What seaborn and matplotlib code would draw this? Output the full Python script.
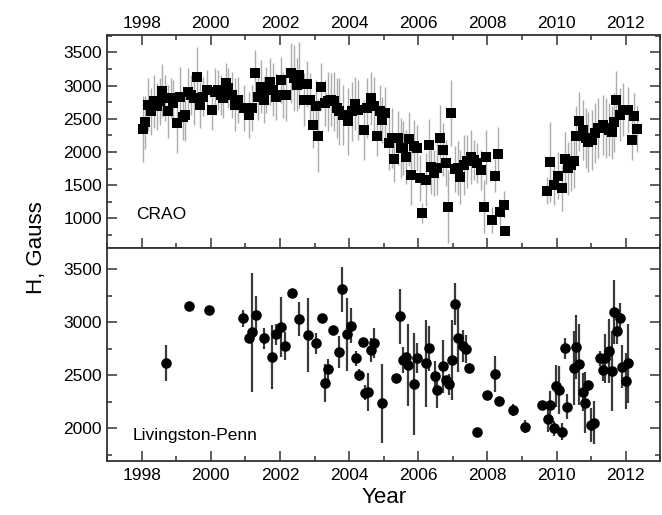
import numpy as np
import pandas as pd
import matplotlib
matplotlib.use("Agg")
import matplotlib.pyplot as plt
from matplotlib.ticker import MultipleLocator
import seaborn as sns

# ---------------- data ----------------
crao_year = [1998.03, 1998.10, 1998.20, 1998.28, 1998.35, 1998.44, 1998.52, 1998.60, 1998.68, 1998.76,
             1998.84, 1998.92, 1999.02, 1999.10, 1999.19, 1999.27, 1999.35, 1999.44, 1999.52, 1999.60,
             1999.69, 1999.78, 1999.88, 2000.03, 2000.12, 2000.20, 2000.30, 2000.35, 2000.43, 2000.50,
             2000.60, 2000.69, 2000.80, 2000.95, 2001.10, 2001.20, 2001.27, 2001.36, 2001.46, 2001.53,
             2001.60, 2001.70, 2001.80, 2001.88, 2002.03, 2002.10, 2002.17, 2002.32, 2002.40, 2002.48,
             2002.56, 2002.69, 2002.78, 2002.88, 2002.95, 2003.04, 2003.11, 2003.20, 2003.30, 2003.38,
             2003.48, 2003.55, 2003.64, 2003.72, 2003.81, 2003.98, 2004.07, 2004.16, 2004.25, 2004.44,
             2004.53, 2004.63, 2004.72, 2004.82, 2004.88, 2004.96, 2005.04, 2005.14, 2005.23, 2005.30,
             2005.40, 2005.50, 2005.56, 2005.64, 2005.72, 2005.80, 2005.88, 2005.97, 2006.05, 2006.12,
             2006.21, 2006.31, 2006.38, 2006.46, 2006.54, 2006.63, 2006.72, 2006.81, 2006.86, 2006.96,
             2007.05, 2007.15, 2007.22, 2007.32, 2007.41, 2007.51, 2007.61, 2007.70, 2007.80, 2007.89,
             2007.96, 2008.13, 2008.21, 2008.31, 2008.37, 2008.47, 2008.52,
             2009.72, 2009.82, 2009.91, 2010.05, 2010.15, 2010.23, 2010.32, 2010.42, 2010.51, 2010.56,
             2010.65, 2010.75, 2010.84, 2010.92, 2011.02, 2011.11, 2011.21, 2011.33, 2011.42, 2011.50,
             2011.60, 2011.67, 2011.72, 2011.83, 2011.93, 2012.06, 2012.17, 2012.25, 2012.32]
crao_h = [2345, 2450, 2710, 2610, 2760, 2685, 2760, 2925, 2810, 2610,
          2810, 2735, 2435, 2825, 2525, 2560, 2910, 2860, 2810, 3125,
          2710, 2835, 2935, 2635, 2910, 2935, 2860, 2810, 3045, 2960,
          2860, 2710, 2785, 2660, 2560, 2660, 3185, 2825, 2985, 2785,
          2935, 3060, 2935, 2835, 3085, 2860, 2860, 3185, 3110, 3010,
          3160, 2785, 3025, 2785, 2410, 2685, 2245, 2985, 2735, 2760,
          2785, 2760, 2660, 2610, 2560, 2460, 2610, 2725, 2635, 2335,
          2660, 2810, 2685, 2235, 2610, 2485, 2585, 2135, 2210, 1895,
          2210, 2060, 2060, 1925, 2195, 1660, 2085, 2060, 1610, 1085,
          1585, 2100, 1775, 1685, 1760, 2210, 2035, 1835, 1175, 2585,
          1745, 1760, 1625, 1810, 1860, 1925, 1885, 1835, 1735, 1175,
          1925, 975, 1645, 1975, 1095, 1210, 810,
          1420, 1845, 1510, 1645, 1460, 1900, 1755, 1810, 1860, 2245,
          2460, 2335, 2210, 2145, 2185, 2285, 2360, 2410, 2360, 2335,
          2295, 2445, 2775, 2560, 2635, 2635, 2185, 2535, 2345]
crao_err = [500, 400, 400, 350, 400, 350, 350, 400, 350, 400,
            300, 350, 450, 450, 350, 400, 350, 300, 400, 450,
            350, 300, 300, 300, 350, 300, 300, 300, 300, 300,
            350, 400, 350, 350, 350, 350, 350, 350, 400, 350,
            350, 350, 400, 350, 350, 350, 400, 450, 500, 400,
            500, 400, 350, 400, 350, 400, 550, 350, 350, 450,
            400, 450, 450, 500, 450, 500, 450, 400, 450, 450,
            450, 400, 450, 300, 400, 350, 400, 400, 450, 350,
            400, 450, 400, 400, 400, 450, 400, 350, 350, 150,
            400, 400, 400, 350, 400, 500, 400, 350, 550, 500,
            350, 400, 400, 450, 400, 400, 300, 300, 300, 400,
            400, 200, 250, 400, 200, 200, 0,
            200, 600, 300, 350, 350, 400, 400, 400, 400, 450,
            450, 450, 450, 450, 450, 450, 450, 450, 450, 400,
            400, 450, 450, 400, 400, 350, 300, 350, 350]

lp_year = [1998.70, 1999.37, 1999.96, 2000.94, 2001.11, 2001.20, 2001.30, 2001.55, 2001.78, 2001.88,
           2002.04, 2002.14, 2002.36, 2002.54, 2002.80, 2003.04, 2003.22, 2003.30, 2003.38, 2003.54,
           2003.71, 2003.79, 2003.95, 2004.05, 2004.21, 2004.29, 2004.39, 2004.47, 2004.56, 2004.63,
           2004.72, 2004.96, 2005.37, 2005.47, 2005.56, 2005.64, 2005.71, 2005.88, 2005.97, 2006.21,
           2006.31, 2006.47, 2006.55, 2006.72, 2006.81, 2006.88, 2006.98, 2007.05, 2007.15, 2007.29,
           2007.39, 2007.46, 2007.70, 2007.99, 2008.23, 2008.33, 2008.73, 2009.08, 2009.57, 2009.74,
           2009.82, 2009.91, 2009.99, 2010.07, 2010.15, 2010.23, 2010.31, 2010.49, 2010.55, 2010.66,
           2010.75, 2010.83, 2010.92, 2011.00, 2011.09, 2011.24, 2011.33, 2011.41, 2011.51, 2011.59,
           2011.66, 2011.75, 2011.83, 2011.90, 2012.00, 2012.07]
lp_h = [2617, 3150, 3110, 3038, 2847, 2906, 3066, 2847, 2674, 2884,
        2956, 2774, 3270, 3025, 2878, 2800, 3041, 2430, 2555, 2925,
        2715, 3307, 2884, 2966, 2659, 2502, 2815, 2336, 2345, 2737,
        2800, 2236, 2470, 3056, 2643, 2674, 2596, 2417, 2659, 2612,
        2753, 2492, 2361, 2586, 2455, 2414, 2643, 3169, 2847, 2774,
        2746, 2565, 1969, 2314, 2508, 2257, 2173, 2016, 2220, 2088,
        2220, 2001, 2398, 2361, 1969, 2753, 2204, 2565, 2768, 2602,
        2345, 2242, 2408, 2032, 2053, 2659, 2549, 2659, 2730, 2539,
        3097, 2918, 3041, 2580, 2445, 2612]
lp_err = [170, 0, 0, 80, 0, 560, 175, 100, 300, 100,
          280, 130, 0, 160, 350, 100, 0, 180, 100, 0,
          150, 215, 340, 165, 70, 60, 0, 70, 180, 110,
          140, 370, 0, 260, 120, 0, 390, 480, 140, 410,
          210, 140, 170, 250, 0, 100, 380, 200, 320, 150,
          130, 0, 0, 0, 170, 0, 60, 60, 0, 120,
          130, 70, 200, 230, 80, 100, 120, 350, 300, 380,
          180, 290, 0, 160, 200, 70, 100, 230, 300, 380,
          300, 125, 140, 200, 260, 370]

year_ticks = [1998, 2000, 2002, 2004, 2006, 2008, 2010, 2012]

crao = pd.DataFrame({"Year": crao_year, "H": crao_h, "err": crao_err})
lp = pd.DataFrame({"Year": lp_year, "H": lp_h, "err": lp_err})

# ---------------- style ----------------
sns.set_theme(style="ticks")
plt.rcParams["font.family"] = ["Liberation Sans", "DejaVu Sans"]

fig = plt.figure(figsize=(6.62, 5.15), dpi=100)
ax1 = fig.add_axes([0.1616, 0.519, 0.836, 0.413])
ax2 = fig.add_axes([0.1616, 0.1054, 0.836, 0.4136], sharex=ax1)

spine_col = "#333333"

# CRAO
ax1.errorbar(crao["Year"], crao["H"], yerr=crao["err"], fmt="none",
             ecolor="#acacac", elinewidth=1.0, capsize=0, zorder=1)
sns.scatterplot(data=crao, x="Year", y="H", ax=ax1, marker="s", s=46,
                color="black", edgecolor="black", linewidth=0, zorder=3, legend=False)

# Livingston-Penn
lpe = lp[lp["err"] > 0]
ax2.errorbar(lpe["Year"], lpe["H"], yerr=lpe["err"], fmt="none",
             ecolor="#3a3a3a", elinewidth=1.6, capsize=0, zorder=1)
sns.scatterplot(data=lp, x="Year", y="H", ax=ax2, marker="o", s=58,
                color="black", edgecolor="black", linewidth=0, zorder=3, legend=False)

ax1.set_xlim(1997, 2013)
ax1.set_ylim(560, 3760)
ax2.set_ylim(1695, 3700)

for ax in (ax1, ax2):
    ax.xaxis.set_major_locator(MultipleLocator(2))
    ax.xaxis.set_minor_locator(MultipleLocator(1))
    ax.yaxis.set_major_locator(MultipleLocator(500))
    ax.yaxis.set_minor_locator(MultipleLocator(250))
    for sp in ax.spines.values():
        sp.set_color(spine_col)
        sp.set_linewidth(1.3)
    ax.set_xlabel("")
    ax.set_ylabel("")
    ax.tick_params(which="major", direction="in", length=7, width=1.1, color=spine_col,
                   labelsize=12.5, labelcolor="black")
    ax.tick_params(which="minor", direction="in", length=3.5, width=1.1, color=spine_col)

ax1.set_xticks(year_ticks)
ax1.tick_params(which="both", top=True, bottom=True, left=True, right=True,
                labeltop=True, labelbottom=False, labelleft=True, labelright=False)
ax2.tick_params(which="both", top=False, bottom=True, left=True, right=True,
                labeltop=False, labelbottom=True, labelleft=True, labelright=False)
ax1.tick_params(axis="x", which="major", pad=3)
ax2.tick_params(axis="x", which="major", pad=5)

ax1.text(0.052, 0.155, "CRAO", transform=ax1.transAxes, fontsize=12.5,
         ha="left", va="center", color="black")
ax2.text(0.047, 0.12, "Livingston-Penn", transform=ax2.transAxes, fontsize=12.5,
         ha="left", va="center", color="black")

ax2.set_xlabel("Year", fontsize=16, labelpad=3, color="black")
fig.text(0.055, 0.519, "H, Gauss", rotation=90, fontsize=16, ha="center",
         va="center", color="black")

fig.savefig("out.png", dpi=100)
